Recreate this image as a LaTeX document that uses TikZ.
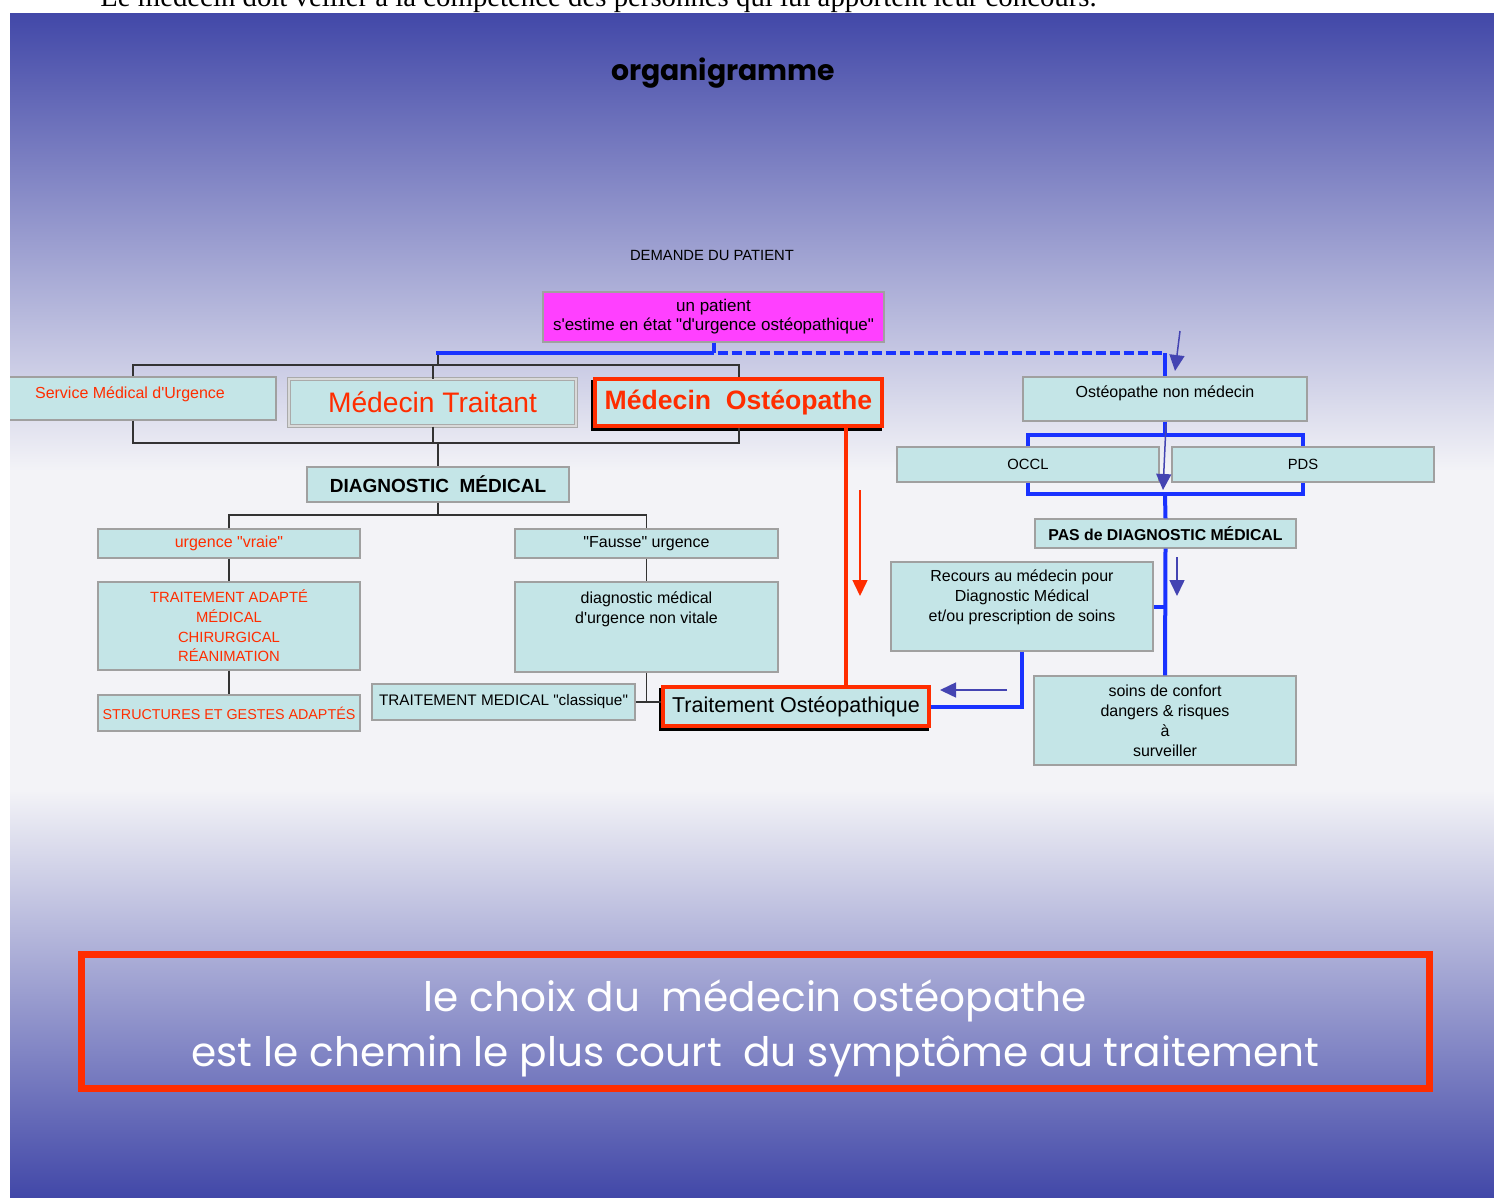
\documentclass[tikz,border=0pt]{standalone}
\usepackage{fontspec}
\newfontfamily\labelfont{Liberation Sans}
\newfontfamily\serifnote{Liberation Serif}
\newfontfamily\roundfont{Poppins}
\usepackage{tikz}
\usetikzlibrary{positioning}
\usetikzlibrary{shadows}
\usetikzlibrary{arrows.meta}

\definecolor{slideblue}{RGB}{66,72,168}
\definecolor{slidewhite}{RGB}{243,243,247}
\definecolor{cellfill}{RGB}{196,229,231}
\definecolor{cellline}{RGB}{160,160,160}
\definecolor{osteored}{RGB}{255,45,0}
\definecolor{patientpink}{RGB}{255,64,255}
\definecolor{linkblue}{RGB}{25,50,255}
\definecolor{hintindigo}{RGB}{68,68,178}

\tikzset{
  cell/.style={draw=cellline, line width=1.2pt, fill=cellfill, inner sep=0pt,
    font=\labelfont\fontsize{16}{20}\selectfont},
  capstext/.style={font=\labelfont\fontsize{14.8}{19.7}\selectfont},
  redcell/.style={draw=osteored, line width=4.5pt, fill=cellfill, inner sep=0pt,
    general shadow={draw=black, fill=black, line width=4.5pt, shadow xshift=-2pt, shadow yshift=-3pt}},
  link/.style={draw=black!80, line width=1.2pt},
  blueline/.style={draw=linkblue, line width=4pt},
  redline/.style={draw=osteored, line width=4pt},
  hint/.style={draw=hintindigo, line width=1.5pt, -{Triangle[length=16pt,width=15pt]}},
}

% text pushed to the top of a box: width, height, top gap, text
\newcommand{\topcell}[4]{\begin{minipage}[c][#2][t]{#1}\centering\vspace*{#3}\strut#4\end{minipage}}

\begin{document}
\begin{tikzpicture}[x=1pt, y=-1pt, font=\labelfont]
\useasboundingbox (0,0) rectangle (1494,1197);
\fill[white] (0,0) rectangle (1494,1197);
\node[anchor=base] (note) at (598.5,6) {\serifnote\fontsize{28.8}{32}\selectfont Le médecin doit veiller à la compétence des personnes qui lui apportent leur concours.};

% slide background
\shade[top color=slideblue, bottom color=slidewhite] (10,13) rectangle (1494,470.5);
\fill[slidewhite] (10,470) rectangle (1494,790.5);
\shade[top color=slidewhite, bottom color=slideblue] (10,790) rectangle (1494,1197);

\begin{scope}
\clip (10,13) rectangle (1494,1197);
\node[anchor=base] (title) at (723,80) {\roundfont\bfseries\fontsize{28.3}{32}\selectfont organigramme};
\node[capstext] (demande) at (712,255) {DEMANDE DU PATIENT};

\node[cell, fill=patientpink, align=center, minimum width=341pt, minimum height=50pt,
  font=\labelfont\fontsize{17}{19}\selectfont] (pat) at (713.5,317)
  {un patient\\s'estime en état "d'urgence ostéopathique"};

% the three doctors
\node[cell, text=osteored, minimum width=292pt, minimum height=43pt] (sam) at (130,398.5)
  {\topcell{292pt}{43pt}{7.8pt}{Service Médical d'Urgence}};
\node[cell, draw=cellline!90, double=cellline!40, double distance=2pt, line width=1pt,
  minimum width=287pt, minimum height=47pt, text=osteored,
  font=\labelfont\fontsize{28.2}{30}\selectfont] (mt) at (432.5,402.5) {Médecin Traitant};
\node[redcell, minimum width=287pt, minimum height=47pt, text=osteored,
  font=\labelfont\bfseries\fontsize{26.6}{30}\selectfont] (mo) at (738.5,402.5) {Médecin\ \ Ostéopathe};

\node[cell, minimum width=262pt, minimum height=35pt,
  font=\labelfont\bfseries\fontsize{19}{22}\selectfont] (dm) at (438,484.5) {DIAGNOSTIC\ \ MÉDICAL};

% left branch
\node[cell, text=osteored, minimum width=262pt, minimum height=29pt] (vraie) at (229,543.5) {urgence "vraie"};
\node[cell, capstext, text=osteored, align=center, minimum width=262pt, minimum height=88pt] (ta) at (229,626)
  {TRAITEMENT ADAPTÉ\\MÉDICAL\\CHIRURGICAL\\RÉANIMATION};
\node[cell, text=osteored, minimum width=262pt, minimum height=36pt,
  font=\labelfont\fontsize{14.3}{19}\selectfont] (struct) at (229,713)
  {STRUCTURES ET GESTES ADAPTÉS};

% middle branch
\node[cell, minimum width=263pt, minimum height=29pt] (fausse) at (646.5,543.5) {"Fausse" urgence};
\node[cell, minimum width=263pt, minimum height=90pt] (dmu) at (646.5,627)
  {\topcell{263pt}{90pt}{7.8pt}{diagnostic médical\\d'urgence non vitale}};
\node[cell, minimum width=263pt, minimum height=36pt, font=\labelfont\fontsize{15.3}{19}\selectfont] (tmc) at (503.5,702)
  {TRAITEMENT MEDICAL "classique"};
\node[redcell, minimum width=266pt, minimum height=39pt,
  font=\labelfont\fontsize{21.5}{24}\selectfont] (to) at (796,706.5) {Traitement Ostéopathique};

% right branch
\node[cell, minimum width=284pt, minimum height=44pt] (onm) at (1165,399)
  {\topcell{284pt}{44pt}{6.8pt}{Ostéopathe non médecin}};
\node[cell, capstext, minimum width=262pt, minimum height=35pt] (occl) at (1028,464.5) {OCCL};
\node[cell, capstext, minimum width=262pt, minimum height=35pt] (pds) at (1303,464.5) {PDS};
\node[cell, minimum width=261pt, minimum height=29pt,
  font=\labelfont\bfseries\fontsize{15.8}{20}\selectfont] (pas) at (1165.5,533.5) {PAS de DIAGNOSTIC MÉDICAL};
\node[cell, minimum width=262pt, minimum height=89pt] (rec) at (1022,606.5)
  {\topcell{262pt}{89pt}{5.8pt}{Recours au médecin pour\\Diagnostic Médical\\et/ou prescription de soins}};
\node[cell, align=center, minimum width=262pt, minimum height=89pt] (soins) at (1165,720.5)
  {soins de confort\\dangers \& risques\\à\\surveiller};

\node[draw=osteored, line width=6.5pt, minimum width=1348pt, minimum height=134pt, inner sep=0pt,
  text=white, align=center, font=\roundfont\fontsize{40.6}{55}\selectfont] (choix) at (755.25,1021.5)
  {\rule{0pt}{45pt}le choix du\ \ médecin ostéopathe\\est le chemin le plus court\ \ du symptôme au traitement};

% black tree
\coordinate (cl) at (133,0);
\coordinate (cm) at (433,0);
\coordinate (cr) at (739,0);
\coordinate (ht) at (438,365);
\coordinate (hb) at (438,443);
\coordinate (hd) at (438,515);
\coordinate (bl) at (436,353);
\draw[link] (sam.north -| cl) -- (cl |- ht) -- (cr |- ht) -- (mo.north -| cr);
\draw[link] (mt.north -| cm) -- (cm |- ht);
\draw[link] (ht) -- (ht |- bl);
\draw[link] (sam.south -| cl) -- (cl |- hb) -- (cr |- hb) -- (mo.south -| cr);
\draw[link] (mt.south -| cm) -- (cm |- hb);
\draw[link] (hb) -- (dm.north);
\draw[link] (dm.south) -- (hd);
\draw[link] (vraie.north) |- (hd) -| (fausse.north);
\draw[link] (vraie) -- (ta);
\draw[link] (ta) -- (struct);
\draw[link] (fausse) -- (dmu);
\draw[link] (dmu.south) -- (dmu.south |- tmc.east);
\draw[link] (tmc.east) -- (tmc.east -| to.west);

% blue paths
\coordinate (rt) at (1165,435);
\coordinate (rb) at (1165,494);
\draw[blueline] (pat.south) -- (pat.south |- bl);
\draw[blueline] (bl) -- (pat.south |- bl);
\draw[blueline, dash pattern=on 10pt off 4pt] ([xshift=4pt]pat.south |- bl) -- (onm.north |- bl);
\draw[blueline] (onm.north |- bl) -- (onm.north);
\draw[blueline] (onm.south) -- (rt);
\draw[blueline] (occl.north) |- (rt) -| (pds.north);
\draw[blueline] (occl.south) |- (rb) -| (pds.south);
\draw[blueline] (rb) -- (pas.north);
\draw[blueline] (pas.south) -- (soins.north);
\draw[blueline] (rec.east) -- (rec.east -| soins.north);
\draw[blueline] (rec.south) |- (to.east);

% red path
\coordinate (xo) at (846,0);
\draw[redline] (mo.south -| xo) -- (to.north -| xo);

% thin arrows
\coordinate (a1s) at (1180,331); \coordinate (a1e) at (1175,371);
\coordinate (a2s) at (1166,424); \coordinate (a2e) at (1163,490);
\coordinate (a3s) at (1177,557); \coordinate (a3e) at (1177,596);
\coordinate (a4s) at (1007,690); \coordinate (a4e) at (940,690);
\coordinate (a5s) at (860,490);  \coordinate (a5e) at (860,596);
\foreach \s/\e in {a1s/a1e, a2s/a2e, a3s/a3e, a4s/a4e}
  \draw[hint] (\s) -- (\e);
\draw[hint, draw=osteored] (a5s) -- (a5e);
\end{scope}
\end{tikzpicture}
\end{document}
